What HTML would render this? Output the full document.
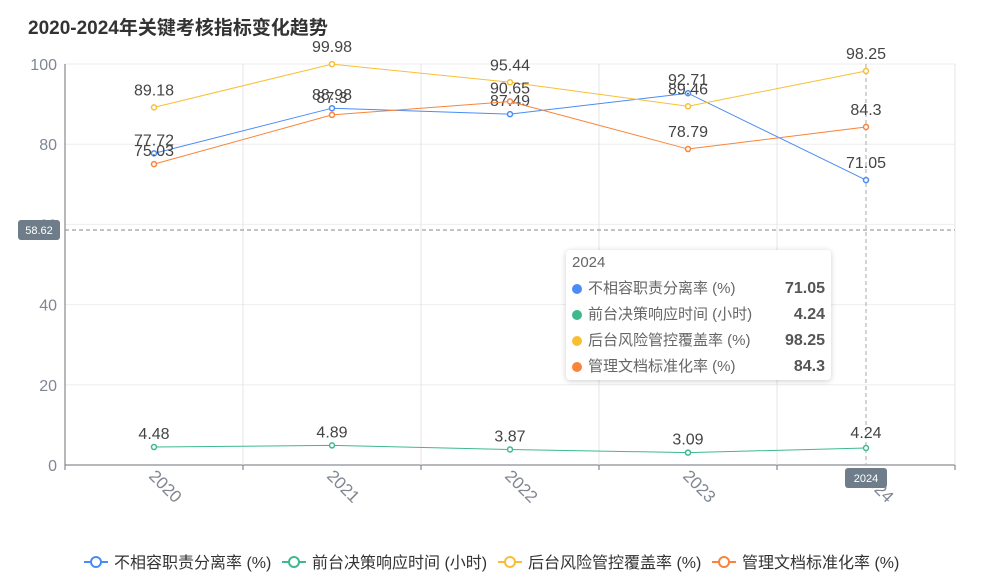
<!DOCTYPE html>
<html><head><meta charset="utf-8"><style>
body{margin:0;background:#fff;font-family:"Liberation Sans","Noto Sans CJK SC",sans-serif;}
#wrap{position:relative;width:987px;height:584px;overflow:hidden;}
.tip{position:absolute;left:566px;top:250px;width:265px;height:130px;background:#fff;border-radius:4px;box-shadow:0 1px 6px rgba(0,0,0,.2);font-size:15px;color:#666;}
.tip .row{position:absolute;left:6px;right:6px;height:22px;line-height:22px}
.tip .dot{display:inline-block;width:10px;height:10px;border-radius:5px;margin-right:6px;vertical-align:-1px}
.tip b{position:absolute;right:0;color:#555;font-size:16px}
</style></head><body>
<div id="wrap">
<svg id="chart" width="987" height="584"></svg>
<div class="tip">
 <div class="row" style="top:2px">2024</div>
 <div class="row" style="top:28px"><span class="dot" style="background:#4a8cf6"></span>不相容职责分离率 (%)<b>71.05</b></div>
 <div class="row" style="top:54px"><span class="dot" style="background:#3db98c"></span>前台决策响应时间 (小时)<b>4.24</b></div>
 <div class="row" style="top:80px"><span class="dot" style="background:#f8bf34"></span>后台风险管控覆盖率 (%)<b>98.25</b></div>
 <div class="row" style="top:106px"><span class="dot" style="background:#f9843a"></span>管理文档标准化率 (%)<b>84.3</b></div>
</div>
</div>
<script>
const categories=["2020","2021","2022","2023","2024"];
const seriesNames=["不相容职责分离率 (%)","前台决策响应时间 (小时)","后台风险管控覆盖率 (%)","管理文档标准化率 (%)"];
const blueValues=[77.72,88.98,87.49,92.71,71.05];
const greenValues=[4.48,4.89,3.87,3.09,4.24];
const yellowValues=[89.18,99.98,95.44,89.46,98.25];
const orangeValues=[75.03,87.3,90.65,78.79,84.3];
const yTicks=[0,20,40,60,80,100];
const colors=["#4a8cf6","#3db98c","#f8bf34","#f9843a"];
const svg=document.getElementById('chart');
const NS="http://www.w3.org/2000/svg";
const L=65,R=955,T=64,B=465;
const bw=(R-L)/categories.length;
const x=i=>L+bw*(i+0.5);
const y=v=>B-(v/100)*(B-T);
function mk(tag,attrs,parent){const e=document.createElementNS(NS,tag);for(const k in attrs)e.setAttribute(k,attrs[k]);(parent||svg).appendChild(e);return e;}
let t=mk('text',{x:28,y:34,'font-size':19,'font-weight':'bold',fill:'#333'});


t.textContent='2020-2024年关键考核指标变化趋势';
yTicks.forEach(v=>{
 const g=mk('line',{x1:L,x2:R,y1:y(v),y2:y(v),stroke:v===0?'#6e7079':'#eeeeee'});
 
 
 const tx=mk('text',{x:57,y:y(v)+6,'text-anchor':'end','font-size':16,fill:'#7f8792'});
 
 
 tx.textContent=v;
});
for(let i=0;i<=categories.length;i++){
 const xx=L+bw*i;
 const gl=mk('line',{x1:xx,x2:xx,y1:T,y2:B,stroke:i===0?'#6e7079':'#e4e4e8'});
 
 
 const tk=mk('line',{x1:xx,x2:xx,y1:B,y2:B+5,stroke:'#6e7079'});
 
 
}
categories.forEach((c,i)=>{
 const tx=mk('text',{x:0,y:0,'font-size':17,fill:'#7f8792',transform:`translate(${x(i)-6},${B+12}) rotate(45)`});
 
 
 tx.textContent=c;
});
let ch=mk('line',{x1:L,x2:R,y1:230,y2:230,stroke:'#888','stroke-dasharray':'4,3'});


let cv=mk('line',{x1:x(4),x2:x(4),y1:T,y2:B,stroke:'#aaa','stroke-dasharray':'4,3'});


const allSeries=[blueValues,greenValues,yellowValues,orangeValues];
const labelDy=[[-8,-8,-8,-8,-12],[-8,-8,-8,-8,-10],[-12,-12,-12,-12,-12],[-8,-12,-8,-12,-12]];
allSeries.forEach((vals,s)=>{
 const p=mk('polyline',{points:vals.map((v,i)=>x(i)+','+y(v)).join(' '),fill:'none',stroke:colors[s],'stroke-width':1});
 
 
 vals.forEach((v,i)=>{
  const c=mk('circle',{cx:x(i),cy:y(v),r:2.5,fill:'#fff',stroke:colors[s],'stroke-width':1.5});
  
  
  const lb=mk('text',{x:x(i),y:y(v)+labelDy[s][i],'text-anchor':'middle','font-size':16,fill:'#444'});
  
  
  lb.textContent=v;
 });
});
let r1=mk('rect',{x:18,y:220,width:42,height:20,rx:3,fill:'#6e7d89'});


let t1=mk('text',{x:39,y:234,'text-anchor':'middle','font-size':11,fill:'#fff'});


t1.textContent='58.62';
let r2=mk('rect',{x:845,y:468,width:42,height:20,rx:3,fill:'#6e7d89'});


let t2=mk('text',{x:866,y:482,'text-anchor':'middle','font-size':11,fill:'#fff'});


t2.textContent='2024';
const legX=[84,282,498,712];
seriesNames.forEach((n,s)=>{
 const g=mk('g',{});
 
 
 mk('line',{x1:legX[s],x2:legX[s]+24,y1:562,y2:562,stroke:colors[s],'stroke-width':2},g);
 mk('circle',{cx:legX[s]+12,cy:562,r:5,fill:'#fff',stroke:colors[s],'stroke-width':2},g);
 const tx=mk('text',{x:legX[s]+30,y:568,'font-size':16,fill:'#333'},g);
 tx.textContent=n;
});
</script>
</body></html>
